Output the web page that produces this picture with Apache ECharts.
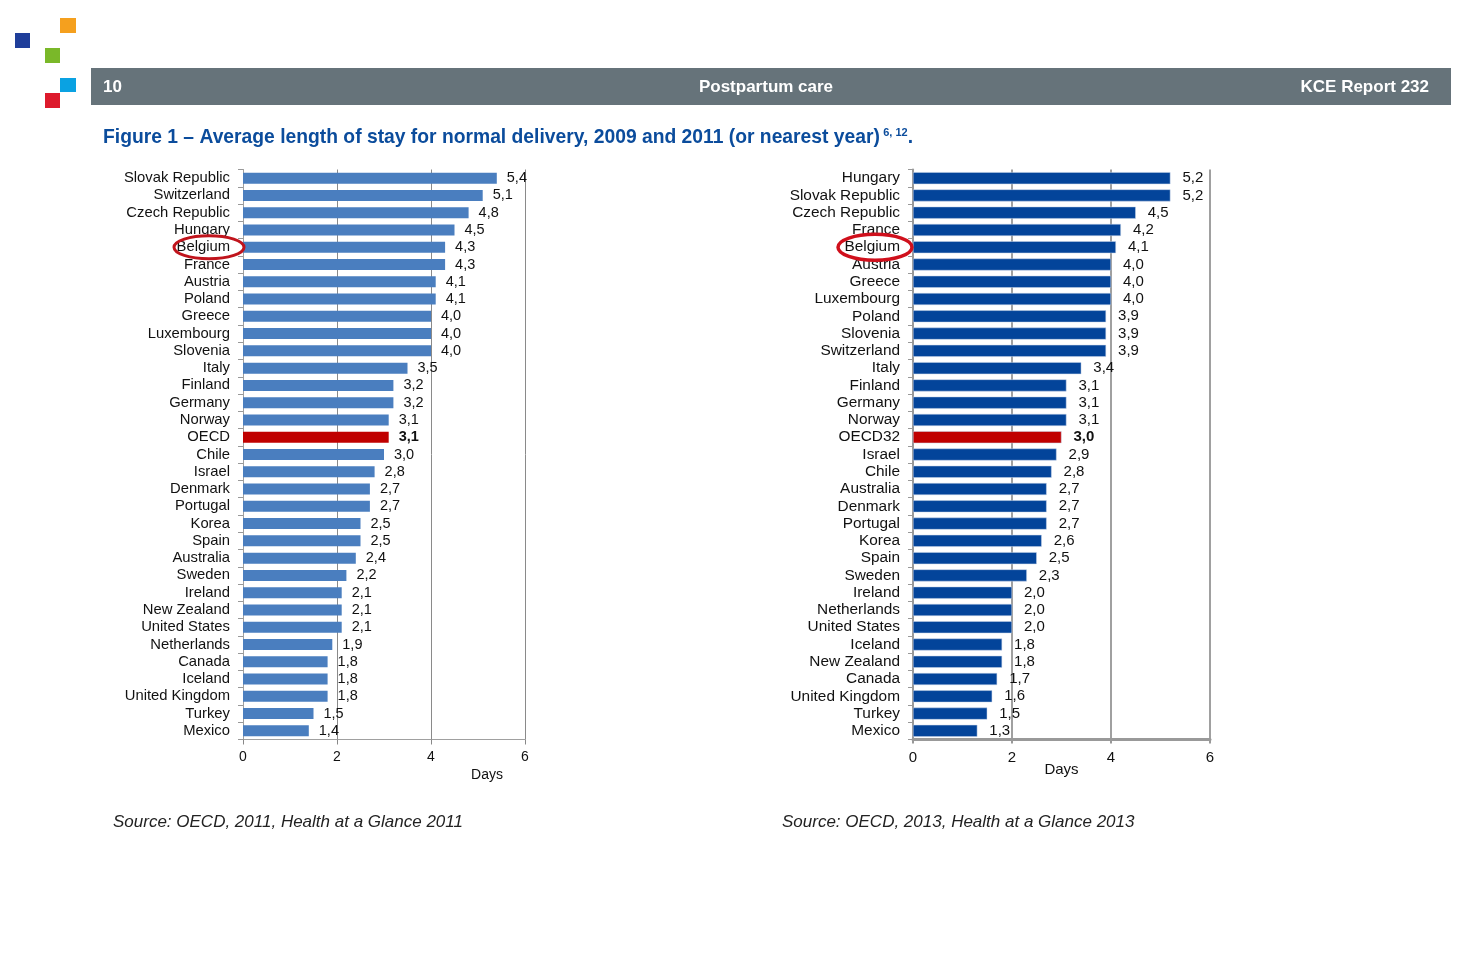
<!DOCTYPE html>
<html><head><meta charset="utf-8">
<script src="https://cdn.jsdelivr.net/npm/echarts@6/dist/echarts.min.js"></script>
<style>html,body{margin:0;padding:0;background:#fff}#c{width:1474px;height:977px}</style>
</head><body><div id="c"></div>
<script>
var catsL = ["Slovak Republic","Switzerland","Czech Republic","Hungary","Belgium","France","Austria","Poland","Greece","Luxembourg","Slovenia","Italy","Finland","Germany","Norway","OECD","Chile","Israel","Denmark","Portugal","Korea","Spain","Australia","Sweden","Ireland","New Zealand","United States","Netherlands","Canada","Iceland","United Kingdom","Turkey","Mexico"];
var valsL = [5.4,5.1,4.8,4.5,4.3,4.3,4.1,4.1,4.0,4.0,4.0,3.5,3.2,3.2,3.1,3.1,3.0,2.8,2.7,2.7,2.5,2.5,2.4,2.2,2.1,2.1,2.1,1.9,1.8,1.8,1.8,1.5,1.4];
var catsR = ["Hungary","Slovak Republic","Czech Republic","France","Belgium","Austria","Greece","Luxembourg","Poland","Slovenia","Switzerland","Italy","Finland","Germany","Norway","OECD32","Israel","Chile","Australia","Denmark","Portugal","Korea","Spain","Sweden","Ireland","Netherlands","United States","Iceland","New Zealand","Canada","United Kingdom","Turkey","Mexico"];
var valsR = [5.2,5.2,4.5,4.2,4.1,4.0,4.0,4.0,3.9,3.9,3.9,3.4,3.1,3.1,3.1,3.0,2.9,2.8,2.7,2.7,2.7,2.6,2.5,2.3,2.0,2.0,2.0,1.8,1.8,1.7,1.6,1.5,1.3];
var xTicks = [0,2,4,6];
var axisName = "Days";
var highlight = "Belgium";

var FONT = "'Liberation Sans', Arial, sans-serif";
function fmt(v){ return v.toFixed(1).replace('.', ','); }
function mk(cats, vals, base){
  return vals.map(function(v,i){
    var isO = cats[i].indexOf('OECD') === 0;
    return {value:v, itemStyle:{color: isO ? '#C00000' : base},
      label: isO ? {fontWeight:'bold'} : undefined};
  });
}
var GL = {left:243, top:169.5, width:282, height:570};
var GR = {left:913, top:169.5, width:297, height:570};

var chart = echarts.init(document.getElementById('c'));
var opt = {
  animation:false,
  textStyle:{fontFamily:FONT},
  grid:[
    {left:GL.left, top:GL.top, width:GL.width, height:GL.height, containLabel:false},
    {left:GR.left, top:GR.top, width:GR.width, height:GR.height, containLabel:false}
  ],
  xAxis:[
    {gridIndex:0, type:'value', min:xTicks[0], max:xTicks[xTicks.length-1], interval:xTicks[1]-xTicks[0],
     axisLine:{show:true, lineStyle:{color:'#a0a0a0', width:1}},
     axisTick:{show:true, length:5, lineStyle:{color:'#888'}},
     splitLine:{show:true, lineStyle:{color:'#8a8a8a', width:1}},
     axisLabel:{fontSize:14, color:'#111', margin:11, fontFamily:FONT, formatter:function(v){return String(v);}},
     name:axisName, nameLocation:'middle', nameGap:29, nameMoveOverlap:false,
     nameTextStyle:{fontSize:14, color:'#111', padding:[0,0,0,206], fontFamily:FONT}},
    {gridIndex:1, type:'value', min:xTicks[0], max:xTicks[xTicks.length-1], interval:xTicks[1]-xTicks[0],
     axisLine:{show:true, lineStyle:{color:'#999', width:3}},
     axisTick:{show:true, length:4, lineStyle:{color:'#999', width:2}},
     splitLine:{show:true, lineStyle:{color:'#a0a0a0', width:2}},
     axisLabel:{fontSize:15, color:'#111', margin:11, fontFamily:FONT, formatter:function(v){return String(v);}},
     name:axisName, nameLocation:'middle', nameGap:23, nameMoveOverlap:false,
     nameTextStyle:{fontSize:15, color:'#111', fontFamily:FONT}}
  ],
  yAxis:[
    {gridIndex:0, type:'category', inverse:true, data:catsL,
     axisLine:{show:true, lineStyle:{color:'#a0a0a0', width:1}},
     axisTick:{show:true, length:5, interval:0, alignWithLabel:false, lineStyle:{color:'#999'}},
     axisLabel:{interval:0, fontSize:14.8, color:'#111', margin:13, fontFamily:FONT}},
    {gridIndex:1, type:'category', inverse:true, data:catsR,
     axisLine:{show:true, lineStyle:{color:'#999', width:2}},
     axisTick:{show:true, length:5, interval:0, alignWithLabel:false, lineStyle:{color:'#999'}},
     axisLabel:{interval:0, fontSize:15.4, color:'#111', margin:13, fontFamily:FONT}}
  ],
  series:[
    {type:'bar', xAxisIndex:0, yAxisIndex:0, data:mk(catsL, valsL, '#4A7EBF'), barWidth:11,
     label:{show:true, position:'right', distance:10, fontSize:14.5, color:'#111', fontFamily:FONT,
       formatter:function(p){return fmt(p.value);}}},
    {type:'bar', xAxisIndex:1, yAxisIndex:1, data:mk(catsR, valsR, '#03449A'), barWidth:12,
     itemStyle:{borderColor:'#c8d4e8', borderWidth:0.5},
     label:{show:true, position:'right', distance:12, fontSize:15, color:'#111', fontFamily:FONT,
       formatter:function(p){return fmt(p.value);}}}
  ]
};
chart.setOption(opt);

var yL = chart.convertToPixel({yAxisIndex:0}, highlight);
var yR = chart.convertToPixel({yAxisIndex:1}, highlight);

chart.setOption({
  graphic:[
    {type:'rect', shape:{x:15,y:33,width:15,height:15}, style:{fill:'#1F3E9A'}},
    {type:'rect', shape:{x:60,y:18,width:16,height:15}, style:{fill:'#F5A01E'}},
    {type:'rect', shape:{x:45,y:48,width:15,height:15}, style:{fill:'#7AB829'}},
    {type:'rect', shape:{x:60,y:78,width:16,height:14}, style:{fill:'#0AA2E2'}},
    {type:'rect', shape:{x:45,y:93,width:15,height:15}, style:{fill:'#DD1A2C'}},
    {type:'rect', shape:{x:91,y:68,width:1360,height:37}, style:{fill:'#66737A'}},
    {type:'text', x:103, y:87.5, style:{text:'10', fill:'#fff', font:'bold 17px '+FONT, verticalAlign:'middle'}},
    {type:'text', x:766, y:87.5, style:{text:'Postpartum care', fill:'#fff', font:'bold 17px '+FONT, align:'center', verticalAlign:'middle'}},
    {type:'text', x:1429, y:87.5, style:{text:'KCE Report 232', fill:'#fff', font:'bold 17px '+FONT, align:'right', verticalAlign:'middle'}},
    {type:'text', x:103, y:137.5, style:{
      text:'{m|Figure 1 – Average length of stay for normal delivery, 2009 and 2011 (or nearest year)} {s|6, 12}{m|.}',
      verticalAlign:'middle',
      rich:{
        m:{font:'bold 19.3px '+FONT, fill:'#0B4C9C'},
        s:{font:'bold 11px '+FONT, fill:'#0B4C9C', padding:[0,0,10,0]}
      }}},
    {type:'text', x:113, y:822.5, style:{text:'Source: OECD, 2011, Health at a Glance 2011', fill:'#222', font:'italic 17px '+FONT, verticalAlign:'middle'}},
    {type:'text', x:782, y:822.5, style:{text:'Source: OECD, 2013, Health at a Glance 2013', fill:'#222', font:'italic 17px '+FONT, verticalAlign:'middle'}},
    {type:'ellipse', shape:{cx:GL.left-34, cy:yL, rx:35, ry:11.5}, style:{fill:null, stroke:'#C0141C', lineWidth:3}, z:100},
    {type:'ellipse', shape:{cx:GR.left-38, cy:yR, rx:37, ry:13}, style:{fill:null, stroke:'#D0101C', lineWidth:3.5}, z:100}
  ]
});
</script></body></html>
